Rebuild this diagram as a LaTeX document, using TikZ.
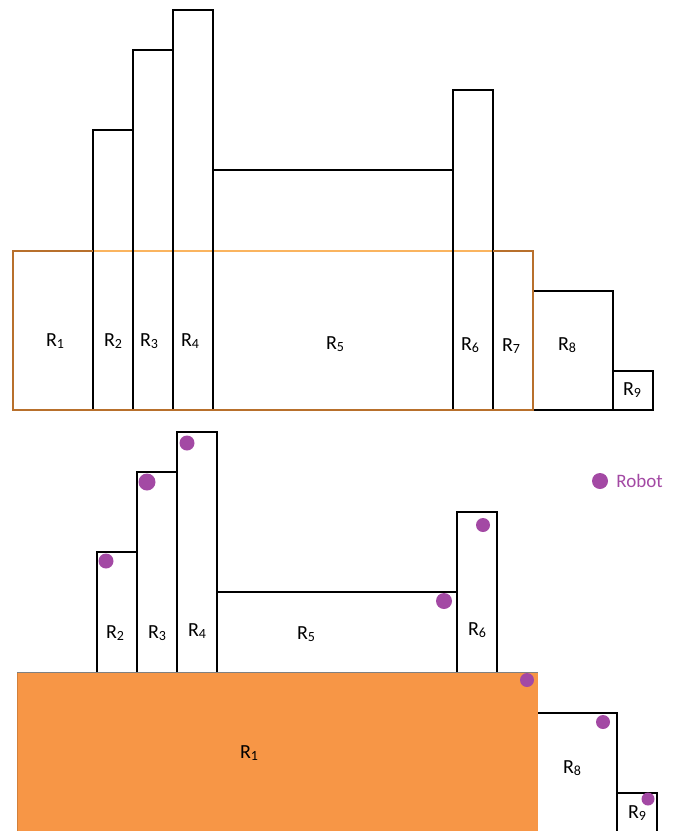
\documentclass[tikz,border=0pt]{standalone}
\usepackage{fontspec}
\setmainfont{Carlito}
\usetikzlibrary{positioning}
\definecolor{robotpurple}{RGB}{163,73,164}
\definecolor{rorange}{RGB}{247,150,70}
\definecolor{rbrown}{RGB}{184,112,44}
\definecolor{rlight}{RGB}{250,180,95}
\newcommand{\Rlab}[1]{R\raisebox{-0.28ex}{\fontsize{14}{14}\selectfont #1}}

\begin{document}
\begin{tikzpicture}[x=1pt,y=-1pt]
		\tikzset{box/.style = {draw=black,line width=1.9pt}}
		\tikzset{lab/.style = {font=\fontsize{20}{22}\selectfont,inner sep=1pt}}
		\tikzset{robot/.style = {circle,fill=robotpurple,inner sep=0pt,minimum size=#1},robot/.default=15pt}
		\useasboundingbox (0,0) rectangle (676,831);
		% upper layout
		\draw[rlight,line width=1.5pt] (93,251) -- (493,251);
		\draw[box] (93,410) rectangle (133,130);
		\draw[box] (133,410) rectangle (173,50);
		\draw[box] (173,410) rectangle (213,10);
		\draw[box] (213,410) rectangle (453,170);
		\draw[box] (453,410) rectangle (493,90);
		\draw[box] (533,410) rectangle (613,291);
		\draw[box] (613,410) rectangle (653,371);
		\draw[rbrown,line width=1.9pt] (93,251) -- (13,251) -- (13,410) -- (533,410) -- (533,251) -- (493,251);
		\node[lab] (u1) at (55,341) {\Rlab{1}};
		\node[lab] (u2) at (113,341) {\Rlab{2}};
		\node[lab] (u3) at (149,341) {\Rlab{3}};
		\node[lab] (u4) at (190,341) {\Rlab{4}};
		\node[lab] (u5) at (335,344) {\Rlab{5}};
		\node[lab] (u6) at (470,345) {\Rlab{6}};
		\node[lab] (u7) at (511,346) {\Rlab{7}};
		\node[lab] (u8) at (567,345) {\Rlab{8}};
		\node[lab] (u9) at (632,390) {\Rlab{9}};
		% lower layout
		\fill[rorange] (17,672) rectangle (538,831);
		\draw[rorange!85!black,line width=1pt] (17,831) -- (17,672);
		\draw[gray,line width=0.8pt] (17,672) -- (538,672);
		\draw[box] (97,672) |- (137,552) -- (137,672);
		\draw[box] (137,672) |- (177,472) -- (177,672);
		\draw[box] (177,672) |- (217,432) -- (217,672);
		\draw[box] (217,672) |- (457,592) -- (457,672);
		\draw[box] (457,672) |- (497,512) -- (497,672);
		\draw[box] (538,713) -| (617,831);
		\draw[box] (617,793) -| (657,831);
		\node[lab] (l1) at (249,753) {\Rlab{1}};
		\node[lab] (l2) at (115,633) {\Rlab{2}};
		\node[lab] (l3) at (157,633) {\Rlab{3}};
		\node[lab] (l4) at (197,631) {\Rlab{4}};
		\node[lab] (l5) at (306,634) {\Rlab{5}};
		\node[lab] (l6) at (477,630) {\Rlab{6}};
		\node[lab] (l8) at (572,768) {\Rlab{8}};
		\node[lab] (l9) at (637,813) {\Rlab{9}};
		% robots
		\node[robot] (rb2) at (106,561) {};
		\node[robot=17pt] (rb3) at (147,482) {};
		\node[robot] (rb4) at (187,443) {};
		\node[robot=16pt] (rb5) at (444,601) {};
		\node[robot=14pt] (rb6) at (483,525) {};
		\node[robot=14pt] (rb1) at (527,680) {};
		\node[robot=14pt] (rb8) at (603,722) {};
		\node[robot=13pt] (rb9) at (648,799) {};
		\node[robot=16pt] (key) at (600,481) {};
		\node[lab,right=8pt of key,inner sep=0pt,text=robotpurple,font=\fontsize{19}{21}\selectfont] (keytext) {Robot};
\end{tikzpicture}
\end{document}
